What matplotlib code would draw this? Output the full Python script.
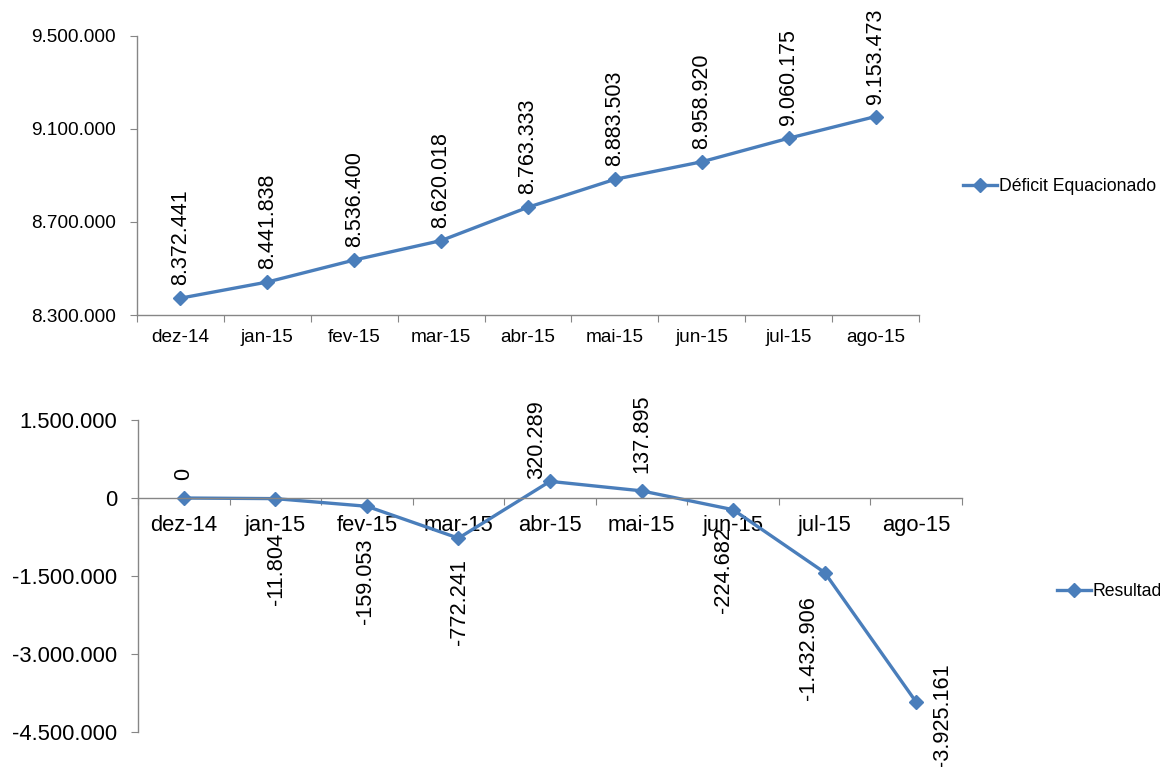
import matplotlib
matplotlib.use("Agg")
import matplotlib.pyplot as plt
from matplotlib.ticker import FuncFormatter, FixedLocator
from matplotlib.lines import Line2D

plt.rcParams['font.family'] = ['Liberation Sans', 'DejaVu Sans']

# data
months = ["dez-14", "jan-15", "fev-15", "mar-15", "abr-15", "mai-15", "jun-15", "jul-15", "ago-15"]
deficit = [8372441, 8441838, 8536400, 8620018, 8763333, 8883503, 8958920, 9060175, 9153473]
resultado = [0, -11804, -159053, -772241, 320289, 137895, -224682, -1432906, -3925161]

# label offsets (pixels) for the lower chart, and vertical alignment
res_off = [(0, 18), (1, -34), (-1, -32), (1, -21), (-13, 2), (0, 18), (-10, -17), (-16, -24), (26, 39)]
res_va = ["bottom", "top", "top", "top", "bottom", "bottom", "top", "top", "top"]

blue = "#4A7EBB"
grey = "#868686"

def br(v, pos=None):
	# brazilian thousands separator
	return "{:,.0f}".format(v).replace(",", ".")

fig = plt.figure(figsize=(11.6, 7.67), dpi=100)
x = list(range(len(months)))

def style_axis(ax, fs, lpad):
	for s in ["top", "right"]:
		ax.spines[s].set_visible(False)
	for s in ["left", "bottom"]:
		ax.spines[s].set_color(grey)
		ax.spines[s].set_linewidth(1)
	ax.set_xlim(-0.5, len(months) - 0.5)
	# ticks at category borders, labels on minor ticks
	ax.xaxis.set_major_locator(FixedLocator([i - 0.5 for i in range(len(months) + 1)]))
	ax.xaxis.set_minor_locator(FixedLocator(x))
	ax.set_xticklabels([], minor=False)
	ax.set_xticklabels(months, minor=True, fontsize=fs)
	ax.tick_params(axis="x", which="major", direction="out", length=5, color=grey)
	ax.tick_params(axis="x", which="minor", length=0, pad=lpad, labelsize=fs)
	ax.tick_params(axis="y", direction="out", length=5, color=grey, labelsize=fs, pad=10)
	ax.yaxis.set_major_formatter(FuncFormatter(br))

# top chart - Deficit Equacionado
ax1 = fig.add_axes([0.1181, 0.5893, 0.6741, 0.3638])
ax1.plot(x, deficit, color=blue, lw=2.4, marker="D", ms=7, clip_on=False)
ax1.set_ylim(8300000, 9500000)
ax1.set_yticks([8300000, 8700000, 9100000, 9500000])
style_axis(ax1, 13.7, 10)
for i, v in enumerate(deficit):
	ax1.annotate(br(v), (x[i], v), xytext=(0, 13), textcoords="offset pixels",
		rotation=90, ha="center", va="bottom", fontsize=15.5)

# bottom chart - Resultado (category axis crosses at zero)
ax2 = fig.add_axes([0.119, 0.0456, 0.7103, 0.4068])
ax2.spines["bottom"].set_position(("data", 0))
ax2.plot(x, resultado, color=blue, lw=2.4, marker="D", ms=7, clip_on=False)
ax2.set_ylim(-4500000, 1500000)
ax2.set_yticks([-4500000, -3000000, -1500000, 0, 1500000])
style_axis(ax2, 15.8, 12)
for i, v in enumerate(resultado):
	ax2.annotate(br(v), (x[i], v), xytext=res_off[i], textcoords="offset pixels",
		rotation=90, ha="center", va=res_va[i], fontsize=15.7)

# legends on the right
h1 = Line2D([], [], color=blue, lw=2.4, marker="D", ms=7)
fig.legend([h1], ["Déficit Equacionado"], loc="center left", bbox_to_anchor=(0.830, 0.7562),
	frameon=False, fontsize=12.7, handlelength=1.93, handletextpad=0.1, borderpad=0, borderaxespad=0)
h2 = Line2D([], [], color=blue, lw=2.4, marker="D", ms=7)
fig.legend([h2], ["Resultado"], loc="center left", bbox_to_anchor=(0.9112, 0.2282),
	frameon=False, fontsize=12.7, handlelength=1.93, handletextpad=0.1, borderpad=0, borderaxespad=0)

fig.savefig("out.png", dpi=100)
